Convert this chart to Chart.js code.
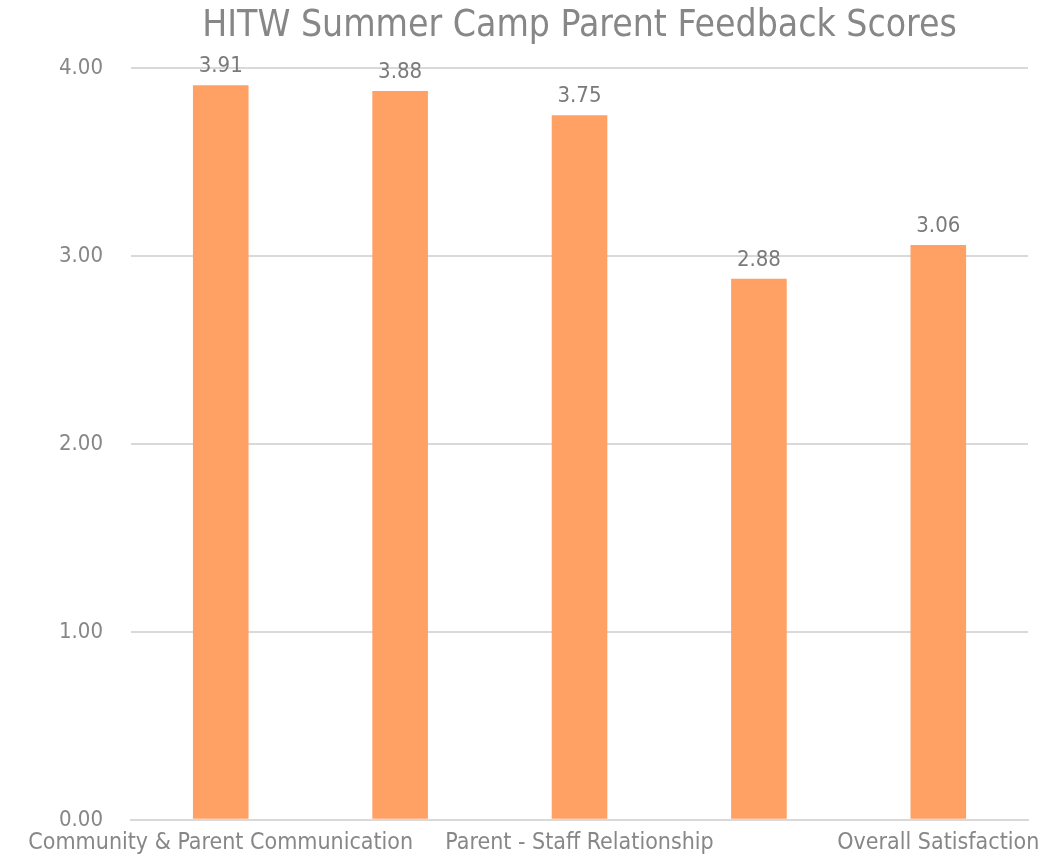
<!DOCTYPE html>
<html lang="en">
<head>
	<meta charset="UTF-8">
	<title>HITW Summer Camp Parent Feedback Scores</title>
	<style>
		html, body { margin: 0; background: #fff; overflow: hidden; }
		#wrap { width: 1064px; height: 861px; }
	</style>
</head>
<body>
	<div id="wrap"><canvas id="myChart"></canvas></div>

	<script src="https://cdn.jsdelivr.net/npm/chart.js@4.4.0/dist/chart.umd.min.js"></script>
	<script type="text/javascript">
		// categories (2nd and 4th names are hidden in the reference, so left blank)
		var categories = ['Community & Parent Communication', '', 'Parent - Staff Relationship', '', 'Overall Satisfaction'];
		var scores = [3.91, 3.88, 3.75, 2.88, 3.06];
		var yTicks = [0, 1, 2, 3, 4];

		var fontFamily = '"DejaVu Sans Condensed", "DejaVu Sans", sans-serif';
		var grey = '#878787';

		// draws the value above each bar
		var valueLabels = {
			id: 'valueLabels',
			afterDatasetsDraw: function(chart) {
				var ctx = chart.ctx;
				var meta = chart.getDatasetMeta(0);
				ctx.save();
				ctx.font = '22px ' + fontFamily;
				ctx.fillStyle = '#7a7a7a';
				ctx.textAlign = 'center';
				ctx.textBaseline = 'bottom';
				meta.data.forEach(function(bar, i) {
					ctx.fillText(scores[i].toFixed(2), bar.x, bar.y - 8);
				});
				ctx.restore();
			}
		};

		var ctx = document.getElementById('myChart').getContext('2d');
		var myChart = new Chart(ctx, {
			type: 'bar',
			data: {
				labels: categories,
				datasets: [{
					label: 'Score',
					data: scores,
					backgroundColor: '#ffa064',
					categoryPercentage: 1,
					barPercentage: 0.31
				}]
			},
			plugins: [valueLabels],
			options: {
				responsive: true,
				maintainAspectRatio: false,
				animation: false,
				layout: { padding: { left: 31, right: 36, top: 4, bottom: 0 } },
				plugins: {
					legend: { display: false },
					tooltip: { enabled: false },
					title: {
						display: true,
						text: 'HITW Summer Camp Parent Feedback Scores',
						fullSize: false,
						color: grey,
						font: { family: fontFamily, size: 37, weight: 'normal' },
						padding: { top: 0, bottom: 20 }
					}
				},
				scales: {
					x: {
						grid: { display: false },
						border: { color: '#d9d9d9', width: 2 },
						ticks: {
							color: grey,
							autoSkip: false,
							maxRotation: 0,
							padding: 4,
							font: { family: fontFamily, size: 23, lineHeight: 1 }
						}
					},
					y: {
						min: yTicks[0],
						max: yTicks[yTicks.length - 1],
						afterBuildTicks: function(axis) {
							axis.ticks = yTicks.map(function(v) { return { value: v }; });
						},
						grid: { color: '#d9d9d9', lineWidth: 2, drawTicks: false },
						border: { display: false },
						ticks: {
							color: grey,
							padding: 28,
							font: { family: fontFamily, size: 22 },
							callback: function(v) { return Number(v).toFixed(2); }
						}
					}
				}
			}
		});
	</script>
</body>
</html>
